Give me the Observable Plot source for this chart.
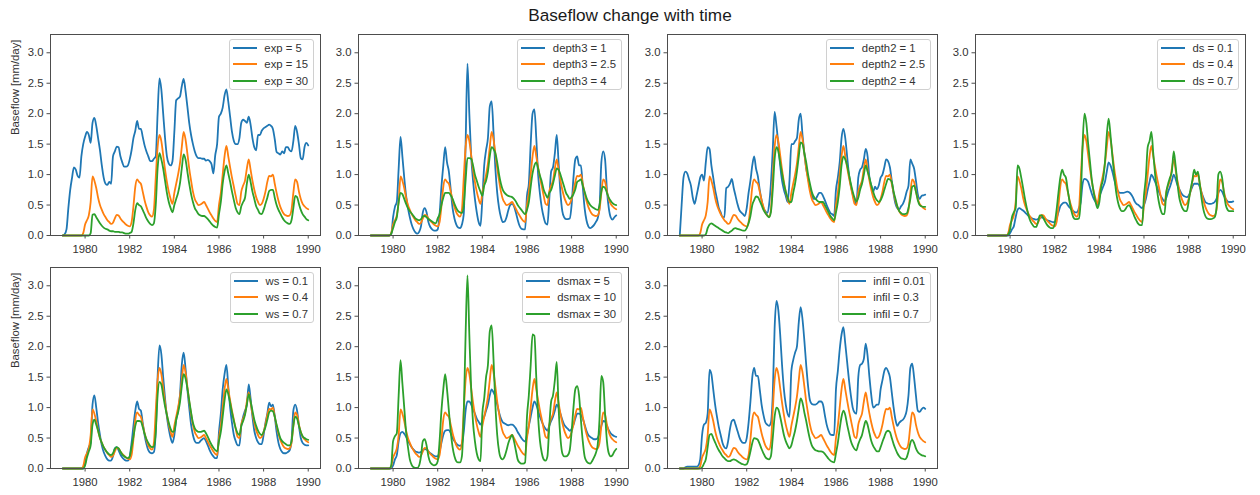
<!DOCTYPE html>
<html>
<head>
<meta charset="utf-8">
<script src="https://cdn.jsdelivr.net/npm/d3@7"></script>
<script src="https://cdn.jsdelivr.net/npm/@observablehq/plot@0.6"></script>
<style>
  html, body { margin: 0; padding: 0; background: #fff; }
  #fig { position: relative; width: 1260px; height: 495px; font-family: "Liberation Sans", Arial, sans-serif; color: #333; }
  #title { position: absolute; left: 0; top: 5px; width: 1260px; text-align: center; font-size: 17.2px; line-height: 20px; color: #1a1a1a; }
  .legend { position: absolute; background: rgba(255,255,255,0.85); border: 1px solid #d0d0d0; border-radius: 3px; padding: 0 5px 0 3px; z-index: 2; }
  .legend .row { display: flex; align-items: center; height: 16.3px; font-size: 11.3px; color: #333; white-space: nowrap; }
  .legend .swatch { width: 24px; height: 2px; margin-right: 7.7px; }
  #fig svg text { font-family: "Liberation Sans", Arial, sans-serif; font-size: 11.3px; }
</style>
</head>
<body>
<div id="fig"><div id="title">Baseflow change with time</div></div>
<script>
// Monthly baseflow [mm/day], January 1979 to January 1990 (133 months).
// The middle setting of every parameter gives the same run.
const baseline = [
  0,0,0,0,0,0,0,0,0,0,0,0.04,
  0.18,0.25,0.33,0.55,0.97,0.9,0.78,0.62,0.5,0.42,0.35,0.3,
  0.25,0.22,0.19,0.21,0.28,0.34,0.33,0.28,0.24,0.21,0.18,0.16,
  0.15,0.22,0.48,0.8,0.92,0.88,0.85,0.72,0.58,0.47,0.38,0.33,
  0.31,0.42,0.95,1.45,1.65,1.55,1.32,1.08,0.88,0.72,0.6,0.52,
  0.7,0.85,1.0,1.18,1.45,1.7,1.58,1.35,1.1,0.9,0.72,0.6,
  0.54,0.5,0.51,0.53,0.55,0.5,0.44,0.38,0.33,0.28,0.24,0.22,
  0.5,0.7,1.0,1.3,1.47,1.3,1.12,0.95,0.8,0.65,0.52,0.5,
  0.72,0.82,0.9,1.1,1.25,1.08,0.9,0.75,0.63,0.55,0.5,0.52,
  0.6,0.72,0.88,0.98,0.97,1.0,0.85,0.7,0.57,0.47,0.4,0.35,
  0.33,0.32,0.33,0.42,0.7,0.92,0.88,0.72,0.6,0.52,0.48,0.45,
  0.43];

const exp5 = [
  0,0.02,0.1,0.45,0.75,0.95,1.12,1.08,0.98,0.95,1.3,1.5,
  1.62,1.7,1.65,1.52,1.85,1.93,1.8,1.6,1.4,1.15,0.95,0.85,
  0.83,0.88,0.85,1.3,1.38,1.46,1.45,1.3,1.2,1.13,1.13,1.15,
  1.25,1.4,1.6,1.72,1.88,1.75,1.75,1.62,1.48,1.38,1.3,1.22,
  1.22,1.26,1.3,2.0,2.58,2.4,2.0,1.6,1.3,1.18,1.15,1.22,
  1.7,2.22,2.25,2.28,2.45,2.57,2.38,2.12,1.85,1.65,1.5,1.38,
  1.3,1.27,1.27,1.26,1.26,1.23,1.24,1.22,1.17,1.02,1.32,1.5,
  1.95,2.0,2.1,2.3,2.4,2.2,1.95,1.7,1.55,1.5,1.5,1.6,
  1.85,1.9,1.88,1.85,1.95,1.82,1.6,1.45,1.4,1.65,1.65,1.72,
  1.76,1.78,1.8,1.82,1.8,1.75,1.58,1.37,1.35,1.33,1.38,1.35,
  1.45,1.45,1.4,1.38,1.55,1.8,1.7,1.5,1.27,1.25,1.45,1.52,
  1.48];

const exp30 = [
  0,0,0,0,0,0,0,0,0,0,0,0,
  0,0,0,0.04,0.34,0.35,0.3,0.25,0.2,0.16,0.13,0.11,
  0.1,0.08,0.07,0.07,0.06,0.06,0.06,0.05,0.05,0.04,0.03,0.03,
  0.04,0.06,0.2,0.42,0.53,0.5,0.48,0.42,0.35,0.28,0.23,0.19,
  0.17,0.2,0.5,1.1,1.35,1.25,1.1,0.9,0.7,0.55,0.45,0.38,
  0.5,0.6,0.7,0.85,1.1,1.33,1.25,1.05,0.85,0.68,0.55,0.45,
  0.4,0.35,0.33,0.32,0.32,0.3,0.27,0.23,0.19,0.16,0.14,0.13,
  0.35,0.55,0.85,1.05,1.15,1.02,0.88,0.72,0.58,0.45,0.38,0.35,
  0.48,0.55,0.62,0.85,1.0,0.88,0.72,0.6,0.48,0.42,0.36,0.35,
  0.42,0.52,0.62,0.73,0.75,0.75,0.62,0.5,0.42,0.36,0.3,0.25,
  0.22,0.2,0.19,0.25,0.45,0.65,0.63,0.52,0.42,0.35,0.31,0.27,
  0.25];

const depth3Shallow = [
  0,0,0,0,0,0,0,0,0,0,0,0.02,
  0.3,0.47,0.55,1.1,1.62,1.3,0.95,0.65,0.45,0.3,0.18,0.1,
  0.05,0.03,0.06,0.15,0.38,0.45,0.38,0.22,0.14,0.1,0.08,0.08,
  0.1,0.35,0.8,1.15,1.45,1.2,1.05,0.75,0.45,0.28,0.18,0.13,
  0.12,0.18,0.35,1.5,2.82,2.0,1.3,0.9,0.6,0.38,0.22,0.16,
  0.6,1.15,1.4,1.6,2.12,2.2,1.7,1.1,0.7,0.45,0.3,0.22,
  0.23,0.3,0.42,0.5,0.52,0.48,0.38,0.26,0.16,0.11,0.1,0.1,
  0.65,0.85,1.5,2.0,2.07,1.6,1.0,0.68,0.45,0.3,0.2,0.18,
  0.6,1.05,1.12,1.35,1.65,1.2,0.7,0.4,0.3,0.27,0.27,0.28,
  0.5,0.95,1.25,1.3,1.15,1.15,0.8,0.45,0.25,0.15,0.12,0.14,
  0.17,0.22,0.28,0.45,1.2,1.38,1.25,0.75,0.45,0.3,0.26,0.3,
  0.33];

const depth3Deep = [
  0,0,0,0,0,0,0,0,0,0,0,0.03,
  0.12,0.22,0.3,0.55,0.7,0.68,0.6,0.52,0.45,0.4,0.36,0.32,
  0.28,0.26,0.25,0.27,0.31,0.32,0.3,0.27,0.25,0.23,0.21,0.2,
  0.28,0.35,0.5,0.62,0.7,0.7,0.7,0.66,0.6,0.52,0.45,0.4,
  0.38,0.37,0.5,0.9,1.27,1.27,1.26,1.15,1.0,0.9,0.8,0.72,
  0.65,0.82,0.9,1.05,1.3,1.45,1.42,1.35,1.2,1.0,0.85,0.75,
  0.7,0.67,0.65,0.64,0.63,0.6,0.56,0.5,0.46,0.42,0.38,0.35,
  0.42,0.55,0.8,1.02,1.15,1.2,1.1,0.98,0.88,0.75,0.68,0.62,
  0.7,0.75,0.85,0.98,1.1,1.08,1.0,0.9,0.8,0.7,0.65,0.6,
  0.63,0.68,0.76,0.88,0.9,0.92,0.82,0.72,0.62,0.55,0.5,0.47,
  0.45,0.43,0.42,0.5,0.72,0.8,0.78,0.7,0.62,0.57,0.53,0.51,
  0.5];

const depth2Shallow = [
  0,0.5,0.95,1.05,1.02,0.92,0.82,0.62,0.52,0.65,0.8,0.95,
  1.0,0.9,1.2,1.45,1.42,1.15,0.95,0.75,0.6,0.45,0.38,0.3,
  0.3,0.78,0.8,0.85,0.93,0.78,0.65,0.52,0.42,0.38,0.35,0.32,
  0.45,0.7,0.9,1.15,1.3,1.1,0.97,0.75,0.58,0.45,0.4,0.37,
  0.5,0.85,1.4,2.03,1.8,1.5,1.15,0.9,0.75,0.65,0.55,0.9,
  1.5,1.5,1.55,1.6,1.9,2.0,1.65,1.35,1.1,0.95,0.78,0.66,
  0.6,0.6,0.65,0.7,0.7,0.65,0.58,0.5,0.43,0.37,0.35,0.32,
  0.75,0.95,1.2,1.6,1.75,1.6,1.3,1.0,0.82,0.68,0.56,0.52,
  0.95,1.08,1.12,1.25,1.42,1.3,0.95,0.82,0.72,0.8,0.76,0.82,
  0.95,1.0,1.12,1.25,1.22,1.12,0.9,0.68,0.52,0.45,0.43,0.48,
  0.52,0.6,0.72,0.82,1.25,1.18,1.1,0.9,0.68,0.6,0.65,0.66,
  0.67];

const depth2Deep = [
  0,0,0,0,0,0,0,0,0,0,0,0,
  0,0,0.02,0.12,0.18,0.2,0.18,0.16,0.14,0.12,0.1,0.08,
  0.06,0.05,0.04,0.06,0.08,0.11,0.12,0.11,0.1,0.09,0.08,0.08,
  0.12,0.2,0.32,0.5,0.58,0.64,0.63,0.57,0.5,0.42,0.37,0.33,
  0.3,0.38,0.75,1.25,1.45,1.38,1.2,1.02,0.85,0.72,0.62,0.55,
  0.55,0.7,0.85,1.05,1.3,1.53,1.5,1.35,1.2,1.0,0.85,0.72,
  0.64,0.6,0.57,0.55,0.55,0.55,0.5,0.44,0.38,0.32,0.28,0.25,
  0.38,0.55,0.8,1.15,1.3,1.25,1.15,1.0,0.85,0.72,0.62,0.56,
  0.62,0.75,0.85,1.0,1.15,1.05,0.95,0.82,0.72,0.63,0.58,0.55,
  0.58,0.65,0.75,0.85,0.93,0.92,0.88,0.72,0.6,0.48,0.4,0.37,
  0.35,0.35,0.36,0.45,0.6,0.8,0.82,0.72,0.58,0.5,0.48,0.47,
  0.47];

const dsLow = [
  0,0,0,0,0,0,0,0,0,0,0,0,
  0.04,0.1,0.15,0.3,0.42,0.45,0.43,0.41,0.38,0.35,0.32,0.3,
  0.28,0.27,0.26,0.27,0.29,0.3,0.29,0.27,0.25,0.24,0.23,0.22,
  0.22,0.28,0.38,0.48,0.52,0.54,0.54,0.5,0.46,0.43,0.4,0.38,
  0.38,0.45,0.55,0.85,0.93,0.92,0.88,0.78,0.68,0.6,0.55,0.5,
  0.63,0.72,0.8,0.88,1.05,1.2,1.15,1.05,0.92,0.8,0.73,0.7,
  0.7,0.7,0.71,0.72,0.71,0.68,0.63,0.56,0.52,0.5,0.47,0.45,
  0.5,0.6,0.75,0.88,1.0,0.95,0.88,0.8,0.72,0.65,0.6,0.56,
  0.62,0.72,0.8,0.9,1.0,0.93,0.83,0.76,0.7,0.66,0.64,0.63,
  0.65,0.72,0.8,0.85,0.85,0.85,0.8,0.7,0.62,0.55,0.53,0.52,
  0.52,0.53,0.55,0.6,0.7,0.75,0.72,0.65,0.6,0.56,0.55,0.55,
  0.56];

const dsHigh = [
  0,0,0,0,0,0,0,0,0,0,0,0.02,
  0.1,0.3,0.38,0.45,1.15,1.1,0.95,0.78,0.6,0.45,0.32,0.23,
  0.18,0.14,0.14,0.22,0.33,0.33,0.28,0.22,0.17,0.14,0.12,0.12,
  0.2,0.42,0.7,0.95,1.08,1.0,0.95,0.75,0.55,0.4,0.3,0.27,
  0.27,0.28,0.6,1.5,2.0,1.85,1.5,1.2,0.9,0.7,0.55,0.45,
  0.55,0.8,0.92,1.2,1.65,1.92,1.65,1.3,1.0,0.72,0.55,0.45,
  0.4,0.4,0.43,0.48,0.5,0.45,0.38,0.3,0.24,0.19,0.17,0.17,
  0.65,0.95,1.45,1.55,1.7,1.35,1.0,0.75,0.55,0.42,0.35,0.35,
  0.7,0.85,0.95,1.05,1.38,1.15,0.85,0.62,0.5,0.43,0.4,0.4,
  0.55,0.75,0.9,1.08,1.0,1.05,0.85,0.6,0.42,0.32,0.28,0.27,
  0.27,0.28,0.3,0.45,1.0,1.05,0.95,0.7,0.5,0.42,0.4,0.4,
  0.4];

const wsLow = [
  0,0,0,0,0,0,0,0,0,0,0,0,
  0.08,0.25,0.35,0.42,1.05,1.2,1.0,0.75,0.55,0.38,0.27,0.2,
  0.15,0.13,0.13,0.2,0.33,0.35,0.3,0.23,0.18,0.15,0.13,0.13,
  0.2,0.42,0.7,0.95,1.1,0.98,0.95,0.75,0.55,0.4,0.3,0.26,
  0.25,0.27,0.6,1.5,2.02,1.88,1.5,1.15,0.85,0.65,0.5,0.42,
  0.55,0.8,0.95,1.2,1.7,1.9,1.65,1.3,1.0,0.72,0.55,0.45,
  0.42,0.42,0.45,0.48,0.5,0.45,0.38,0.3,0.24,0.2,0.17,0.17,
  0.6,0.9,1.3,1.55,1.7,1.35,1.0,0.75,0.55,0.45,0.38,0.38,
  0.7,0.85,0.95,1.05,1.38,1.15,0.85,0.62,0.5,0.43,0.4,0.4,
  0.55,0.75,0.9,1.08,1.02,1.05,0.85,0.6,0.42,0.32,0.27,0.25,
  0.25,0.27,0.3,0.45,0.95,1.05,0.95,0.7,0.5,0.42,0.39,0.38,
  0.38];

const wsHigh = [
  0,0,0,0,0,0,0,0,0,0,0,0,
  0.05,0.18,0.28,0.38,0.72,0.8,0.72,0.62,0.5,0.42,0.35,0.3,
  0.26,0.23,0.22,0.25,0.32,0.35,0.33,0.28,0.23,0.2,0.18,0.17,
  0.2,0.35,0.52,0.7,0.78,0.78,0.77,0.68,0.57,0.48,0.42,0.37,
  0.35,0.36,0.6,1.2,1.42,1.38,1.2,1.02,0.88,0.75,0.65,0.6,
  0.62,0.8,0.92,1.08,1.35,1.55,1.48,1.32,1.12,0.92,0.75,0.66,
  0.62,0.6,0.6,0.61,0.62,0.58,0.52,0.45,0.39,0.34,0.3,0.28,
  0.45,0.6,0.85,1.12,1.3,1.22,1.08,0.92,0.78,0.66,0.58,0.55,
  0.7,0.78,0.88,1.05,1.22,1.1,0.95,0.8,0.7,0.62,0.57,0.55,
  0.6,0.68,0.8,0.92,0.95,0.94,0.85,0.72,0.6,0.5,0.45,0.42,
  0.4,0.38,0.38,0.45,0.7,0.85,0.82,0.7,0.6,0.53,0.5,0.48,
  0.47];

const dsmaxLow = [
  0,0,0,0,0,0,0,0,0,0,0,0,
  0.05,0.15,0.22,0.45,0.58,0.6,0.57,0.52,0.46,0.4,0.35,0.31,
  0.28,0.27,0.26,0.27,0.3,0.32,0.31,0.28,0.25,0.23,0.21,0.2,
  0.2,0.28,0.42,0.55,0.62,0.63,0.63,0.58,0.5,0.45,0.41,0.38,
  0.37,0.4,0.6,0.95,1.1,1.1,1.05,0.98,0.9,0.82,0.77,0.72,
  0.78,0.85,0.95,1.05,1.2,1.3,1.25,1.18,1.05,0.92,0.82,0.76,
  0.74,0.72,0.71,0.72,0.72,0.7,0.66,0.6,0.55,0.5,0.46,0.44,
  0.55,0.7,0.85,1.0,1.1,1.05,0.95,0.85,0.77,0.7,0.65,0.62,
  0.7,0.78,0.85,0.95,1.05,1.0,0.9,0.8,0.72,0.68,0.65,0.62,
  0.65,0.72,0.82,0.9,0.9,0.88,0.82,0.72,0.62,0.55,0.52,0.5,
  0.48,0.48,0.5,0.58,0.7,0.78,0.77,0.7,0.63,0.58,0.55,0.53,
  0.52];

const dsmaxHigh = [
  0,0,0,0,0,0,0,0,0,0,0,0.05,
  0.45,0.53,0.58,1.2,1.78,1.4,1.0,0.6,0.35,0.15,0.06,0.02,
  0.01,0.01,0.05,0.2,0.45,0.48,0.38,0.2,0.1,0.07,0.05,0.06,
  0.12,0.45,0.95,1.3,1.55,1.3,0.95,0.6,0.35,0.2,0.12,0.1,
  0.1,0.2,0.9,2.2,3.17,2.2,1.3,0.75,0.45,0.25,0.15,0.12,
  0.9,1.15,1.5,1.7,2.25,2.35,1.8,1.05,0.55,0.28,0.17,0.15,
  0.2,0.3,0.42,0.5,0.55,0.45,0.3,0.15,0.1,0.08,0.08,0.1,
  0.85,1.2,1.7,2.2,2.18,1.5,0.85,0.45,0.25,0.15,0.13,0.2,
  0.7,1.1,1.2,1.45,1.75,1.0,0.5,0.25,0.2,0.2,0.22,0.3,
  0.6,1.0,1.3,1.35,1.2,0.8,0.45,0.2,0.12,0.09,0.08,0.12,
  0.18,0.25,0.38,0.8,1.52,1.42,0.9,0.45,0.25,0.2,0.22,0.28,
  0.32];

const infilLow = [
  0,0,0,0.02,0.03,0.03,0.03,0.03,0.03,0.03,0.05,0.15,
  0.55,0.72,0.75,0.9,1.62,1.55,1.3,1.05,0.85,0.68,0.55,0.42,
  0.35,0.33,0.45,0.65,0.78,0.8,0.72,0.62,0.52,0.45,0.42,0.42,
  0.5,0.75,1.1,1.5,1.65,1.52,1.52,1.3,1.05,0.88,0.76,0.72,
  0.7,0.75,1.2,2.3,2.75,2.6,2.2,1.7,1.3,1.05,0.9,0.85,
  1.6,1.78,1.9,2.0,2.4,2.65,2.45,2.1,1.7,1.35,1.12,1.06,
  1.05,1.05,1.07,1.1,1.1,1.05,0.88,0.72,0.62,0.56,0.55,0.55,
  1.3,1.6,1.95,2.2,2.32,2.05,1.75,1.45,1.2,1.0,0.92,0.9,
  1.5,1.7,1.72,1.8,2.05,1.85,1.5,1.2,1.0,1.02,1.05,1.05,
  1.3,1.45,1.6,1.65,1.6,1.5,1.25,1.0,0.8,0.7,0.75,0.78,
  0.8,0.85,0.95,1.2,1.65,1.72,1.5,1.2,0.95,0.93,0.97,1.0,
  0.98];

const infilHigh = [
  0,0,0,0,0,0,0,0,0,0,0,0,
  0.02,0.08,0.15,0.35,0.55,0.57,0.5,0.43,0.36,0.3,0.25,0.2,
  0.17,0.14,0.12,0.12,0.14,0.15,0.14,0.12,0.1,0.08,0.07,0.06,
  0.07,0.15,0.28,0.42,0.5,0.49,0.47,0.4,0.32,0.25,0.19,0.16,
  0.15,0.2,0.5,0.85,1.0,0.97,0.85,0.7,0.55,0.45,0.38,0.33,
  0.38,0.5,0.62,0.78,0.98,1.15,1.08,0.92,0.78,0.62,0.48,0.38,
  0.33,0.3,0.29,0.28,0.28,0.27,0.24,0.2,0.16,0.13,0.11,0.1,
  0.25,0.42,0.65,0.85,0.95,0.88,0.72,0.58,0.45,0.37,0.32,0.3,
  0.4,0.48,0.55,0.68,0.78,0.72,0.58,0.45,0.37,0.32,0.28,0.28,
  0.35,0.44,0.52,0.6,0.62,0.6,0.5,0.4,0.32,0.25,0.2,0.17,
  0.16,0.15,0.18,0.28,0.42,0.47,0.42,0.33,0.27,0.24,0.22,0.21,
  0.2];

// Parameter names and the three settings tried for each.
const paramNames = ["exp", "depth3", "depth2", "ds", "ws", "dsmax", "infil"];
const paramSettings = [
  ["5", "15", "30"],
  ["1", "2.5", "4"],
  ["1", "2.5", "4"],
  ["0.1", "0.4", "0.7"],
  ["0.1", "0.4", "0.7"],
  ["5", "10", "30"],
  ["0.01", "0.3", "0.7"]
];
const paramRuns = [
  [exp5, baseline, exp30],
  [depth3Shallow, baseline, depth3Deep],
  [depth2Shallow, baseline, depth2Deep],
  [dsLow, baseline, dsHigh],
  [wsLow, baseline, wsHigh],
  [dsmaxLow, baseline, dsmaxHigh],
  [infilLow, baseline, infilHigh]
];

const xTicks = [1980, 1982, 1984, 1986, 1988, 1990];
const yTicks = [0, 0.5, 1.0, 1.5, 2.0, 2.5, 3.0];
const yLabel = "Baseflow [mm/day]";
const titleText = "Baseflow change with time";
const palette = ["#1f77b4", "#ff7f0e", "#2ca02c"];

// Month time stamps as decimal years
const firstYear = 1979;
const months = baseline.map((_, i) => firstYear + i / 12);

// Layout of the 4 x 2 grid (frame positions in page pixels)
const frameW = 270, frameH = 201;
const colLeft = [50, 358, 667, 975];
const rowTop = [34, 267];
const ML = 50, MR = 6, MT = 5, MB = 28;

const fig = document.getElementById("fig");
document.getElementById("title").textContent = titleText;

paramNames.forEach((name, k) => {
  const row = Math.floor(k / 4), col = k % 4;
  const keys = paramSettings[k].map(v => `${name} = ${v}`);
  const rows = [];
  paramRuns[k].forEach((series, s) => {
    series.forEach((v, i) => rows.push({t: months[i], v, key: keys[s]}));
  });

  const marks = [
    Plot.lineY(rows, {x: "t", y: "v", z: "key", stroke: "key", strokeWidth: 1.8, curve: "monotone-x"}),
    Plot.frame({stroke: "#4d4d4d", strokeWidth: 1}),
    Plot.axisX({ticks: xTicks, tickFormat: d => String(d), tickSize: 3.5, tickPadding: 5.5, stroke: "#4d4d4d", label: null}),
    Plot.axisY({ticks: yTicks, tickFormat: d3.format(".1f"), tickSize: 3.5, tickPadding: 3.5, stroke: "#4d4d4d", label: null})
  ];
  if (col === 0) {
    marks.push(Plot.text([yLabel], {frameAnchor: "left", dx: -35, rotate: -90, text: d => d, fill: "#333"}));
  }

  const chart = Plot.plot({
    width: ML + frameW + MR,
    height: MT + frameH + MB,
    marginLeft: ML, marginRight: MR, marginTop: MT, marginBottom: MB,
    style: "font-family: 'Liberation Sans', Arial, sans-serif; font-size: 11.3px; color: #333; background: transparent; overflow: visible;",
    x: {domain: [1978.45, 1990.55]},
    y: {domain: [0, 3.3]},
    color: {domain: keys, range: palette},
    marks
  });
  chart.style.position = "absolute";
  chart.style.left = (colLeft[col] - ML) + "px";
  chart.style.top = (rowTop[row] - MT) + "px";
  chart.style.maxWidth = "none";
  fig.appendChild(chart);

  // Legend box in the upper right corner of the panel
  const legend = document.createElement("div");
  legend.className = "legend";
  legend.style.right = (1260 - (colLeft[col] + frameW - 6)) + "px";
  legend.style.top = (rowTop[row] + 5) + "px";
  keys.forEach((key, s) => {
    const r = document.createElement("div");
    r.className = "row";
    const sw = document.createElement("div");
    sw.className = "swatch";
    sw.style.background = palette[s];
    const tx = document.createElement("span");
    tx.textContent = key;
    r.appendChild(sw);
    r.appendChild(tx);
    legend.appendChild(r);
  });
  fig.appendChild(legend);
});
</script>
</body>
</html>
